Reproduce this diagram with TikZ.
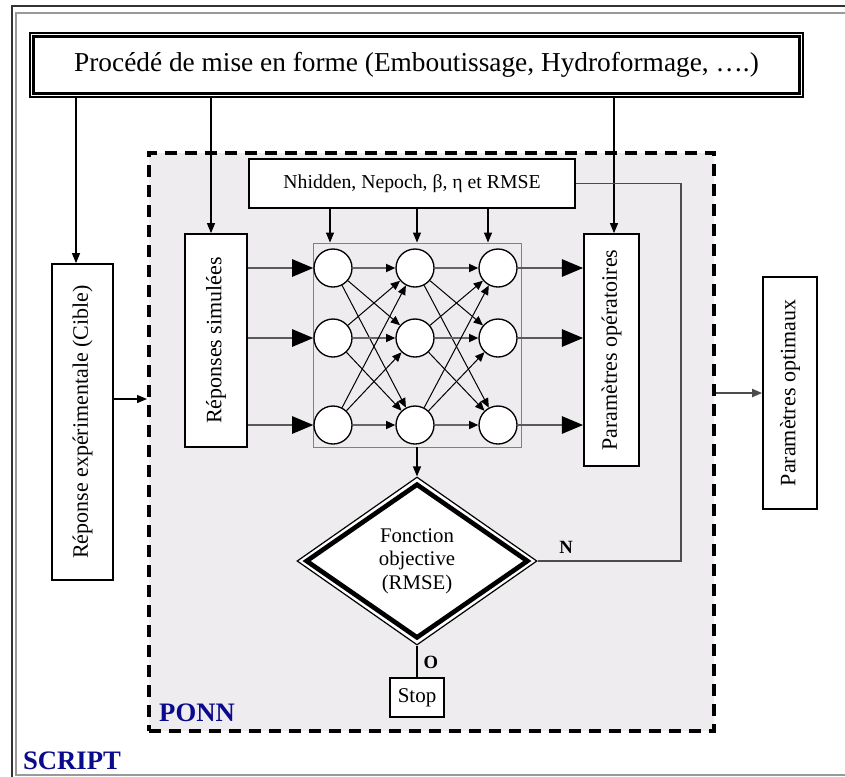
\documentclass[tikz,border=0pt]{standalone}
\usepackage{fontspec}
\setmainfont{Liberation Serif}
\usepackage{graphicx}
\usetikzlibrary{arrows.meta,shapes.geometric}

\definecolor{ponnbg}{RGB}{239,236,240}
\definecolor{ponnblue}{RGB}{10,10,140}

\begin{document}
\begin{tikzpicture}[x=0.75pt,y=-0.75pt,
	box/.style={draw, line width=1.3pt, fill=white, inner sep=0pt},
	arr/.style={-{Triangle[length=7.5pt,width=6pt]}, line width=0.9pt},
	bigarr/.style={-{Triangle[length=16pt,width=13pt,color=black]}, line width=1.6pt, draw=black!65},
	neuron/.style={circle, draw, fill=white, line width=1pt, minimum size=28.5pt, inner sep=0pt},
	syn/.style={-{Triangle[length=7pt,width=6pt,color=black]}, line width=0.75pt},
	synh/.style={syn, line width=1.4pt, draw=black!60},
	lab/.style={font=\fontsize{14pt}{14pt}\selectfont\bfseries},
	ttl/.style={font=\fontsize{20pt}{20pt}\selectfont\bfseries, text=ponnblue},
	vtxt/.style={font=\fontsize{16.5pt}{16.5pt}\selectfont}]
	\useasboundingbox (0,0) rectangle (845,776);
	\clip (0,0) rectangle (845,776);
	% cadre SCRIPT
	\draw[line width=1.2pt, black!80] (12,6) rectangle (900,800);
	\draw[line width=1.2pt, black!40] (16,13) rectangle (890,775);
	% zone PONN
	\node[draw, fill=ponnbg, line width=3pt, dash pattern=on 9pt off 6pt,
		minimum width=423.75pt, minimum height=433.5pt] (ponn) at (431.5,442) {};
	% boites
	\node[box, line width=1pt, minimum width=579.75pt, minimum height=48pt,
		font=\fontsize{20.5pt}{20.5pt}\selectfont] (proc) at (416.5,65)
		{Procédé de mise en forme (Emboutissage, Hydroformage, ….)};
	\draw[line width=2.6pt] ([shift={(4,4)}]proc.north west) rectangle ([shift={(-4,-4)}]proc.south east);
	\node[box, minimum width=244.5pt, minimum height=36.75pt,
		font=\fontsize{14.8pt}{14.8pt}\selectfont] (hyper) at (412,183.5)
		{Nhidden, Nepoch, β, η et RMSE};
	\node[box, vtxt, minimum width=45.75pt, minimum height=237pt] (cible) at (82.5,422)
		{\rotatebox{90}{Réponse expérimentale (Cible)}};
	\node[box, vtxt, minimum width=46.5pt, minimum height=159.75pt] (sim) at (216,340.5)
		{\rotatebox{90}{Réponses simulées}};
	\node[box, vtxt, minimum width=41.25pt, minimum height=174pt] (oper) at (611.5,350)
		{\rotatebox{90}{Paramètres opératoires}};
	\node[box, vtxt, minimum width=40.5pt, minimum height=174pt] (opt) at (790,393)
		{\rotatebox{90}{Paramètres optimaux}};
	\node[draw, black!50, line width=0.7pt, minimum width=156pt, minimum height=153pt] (net) at (417,345) {};
	% fonction objective
	\node[diamond, draw, fill=white, line width=0.9pt, inner sep=0pt,
		minimum width=180pt, minimum height=126pt] (objout) at (417,561) {};
	\node[diamond, draw, line width=3.5pt, inner sep=0pt, minimum width=167pt, minimum height=116pt,
		align=center, font=\fontsize{15.6pt}{17.6pt}\selectfont] (obj) at (417,561)
		{Fonction\\objective\\(RMSE)};
	\node[box, line width=1pt, minimum width=40.5pt, minimum height=29.25pt,
		font=\fontsize{15.75pt}{15.75pt}\selectfont] (stop) at (417,697.5) {Stop};
	% reseau
	\foreach \i/\x in {1/333,2/415,3/498}
		\foreach \j/\y in {1/268,2/338,3/425}
			\node[neuron] (n\i\j) at (\x,\y) {};
	\foreach \i/\k in {1/2,2/3}
		\foreach \j in {1,2,3}
			\foreach \l in {1,2,3}
				{\ifnum\j=\l \draw[synh] (n\i\j) -- (n\k\l); \else \draw[syn] (n\i\j) -- (n\k\l); \fi}
	\foreach \j in {1,2,3} {
		\draw[bigarr] (sim.east |- n1\j) -- (n1\j);
		\draw[bigarr] (n3\j) -- (oper.west |- n3\j);
	}
	\foreach \x in {330,417,488}
		\draw[arr] (hyper.south -| \x,0) -- (net.north -| \x,0);
	% liaisons
	\draw[arr] (proc.south -| 76,0) -- (cible.north -| 76,0);
	\draw[arr] (proc.south -| 211,0) -- (sim.north -| 211,0);
	\draw[arr] (proc.south -| 614,0) -- (oper.north -| 614,0);
	\draw[arr] (cible.east |- 0,399) -- (ponn.west |- 0,399);
	\draw[arr, line width=1.4pt, draw=black!70] (ponn.east |- opt.west) -- (opt.west);
	\draw[arr] (net.south) -- (objout.north);
	\draw[line width=1.3pt, black!70] (hyper.east) -- ++(105,0) |- (objout.east);
	\draw[line width=0.9pt] (objout.south) -- (stop.north);
	\node[lab] (nlab) at (566,547) {N};
	\node[lab] (olab) at (431,662) {O};
	\node[ttl] (ponnlab) at (197,713) {PONN};
	\node[ttl] (script) at (72,761) {SCRIPT};
\end{tikzpicture}
\end{document}
